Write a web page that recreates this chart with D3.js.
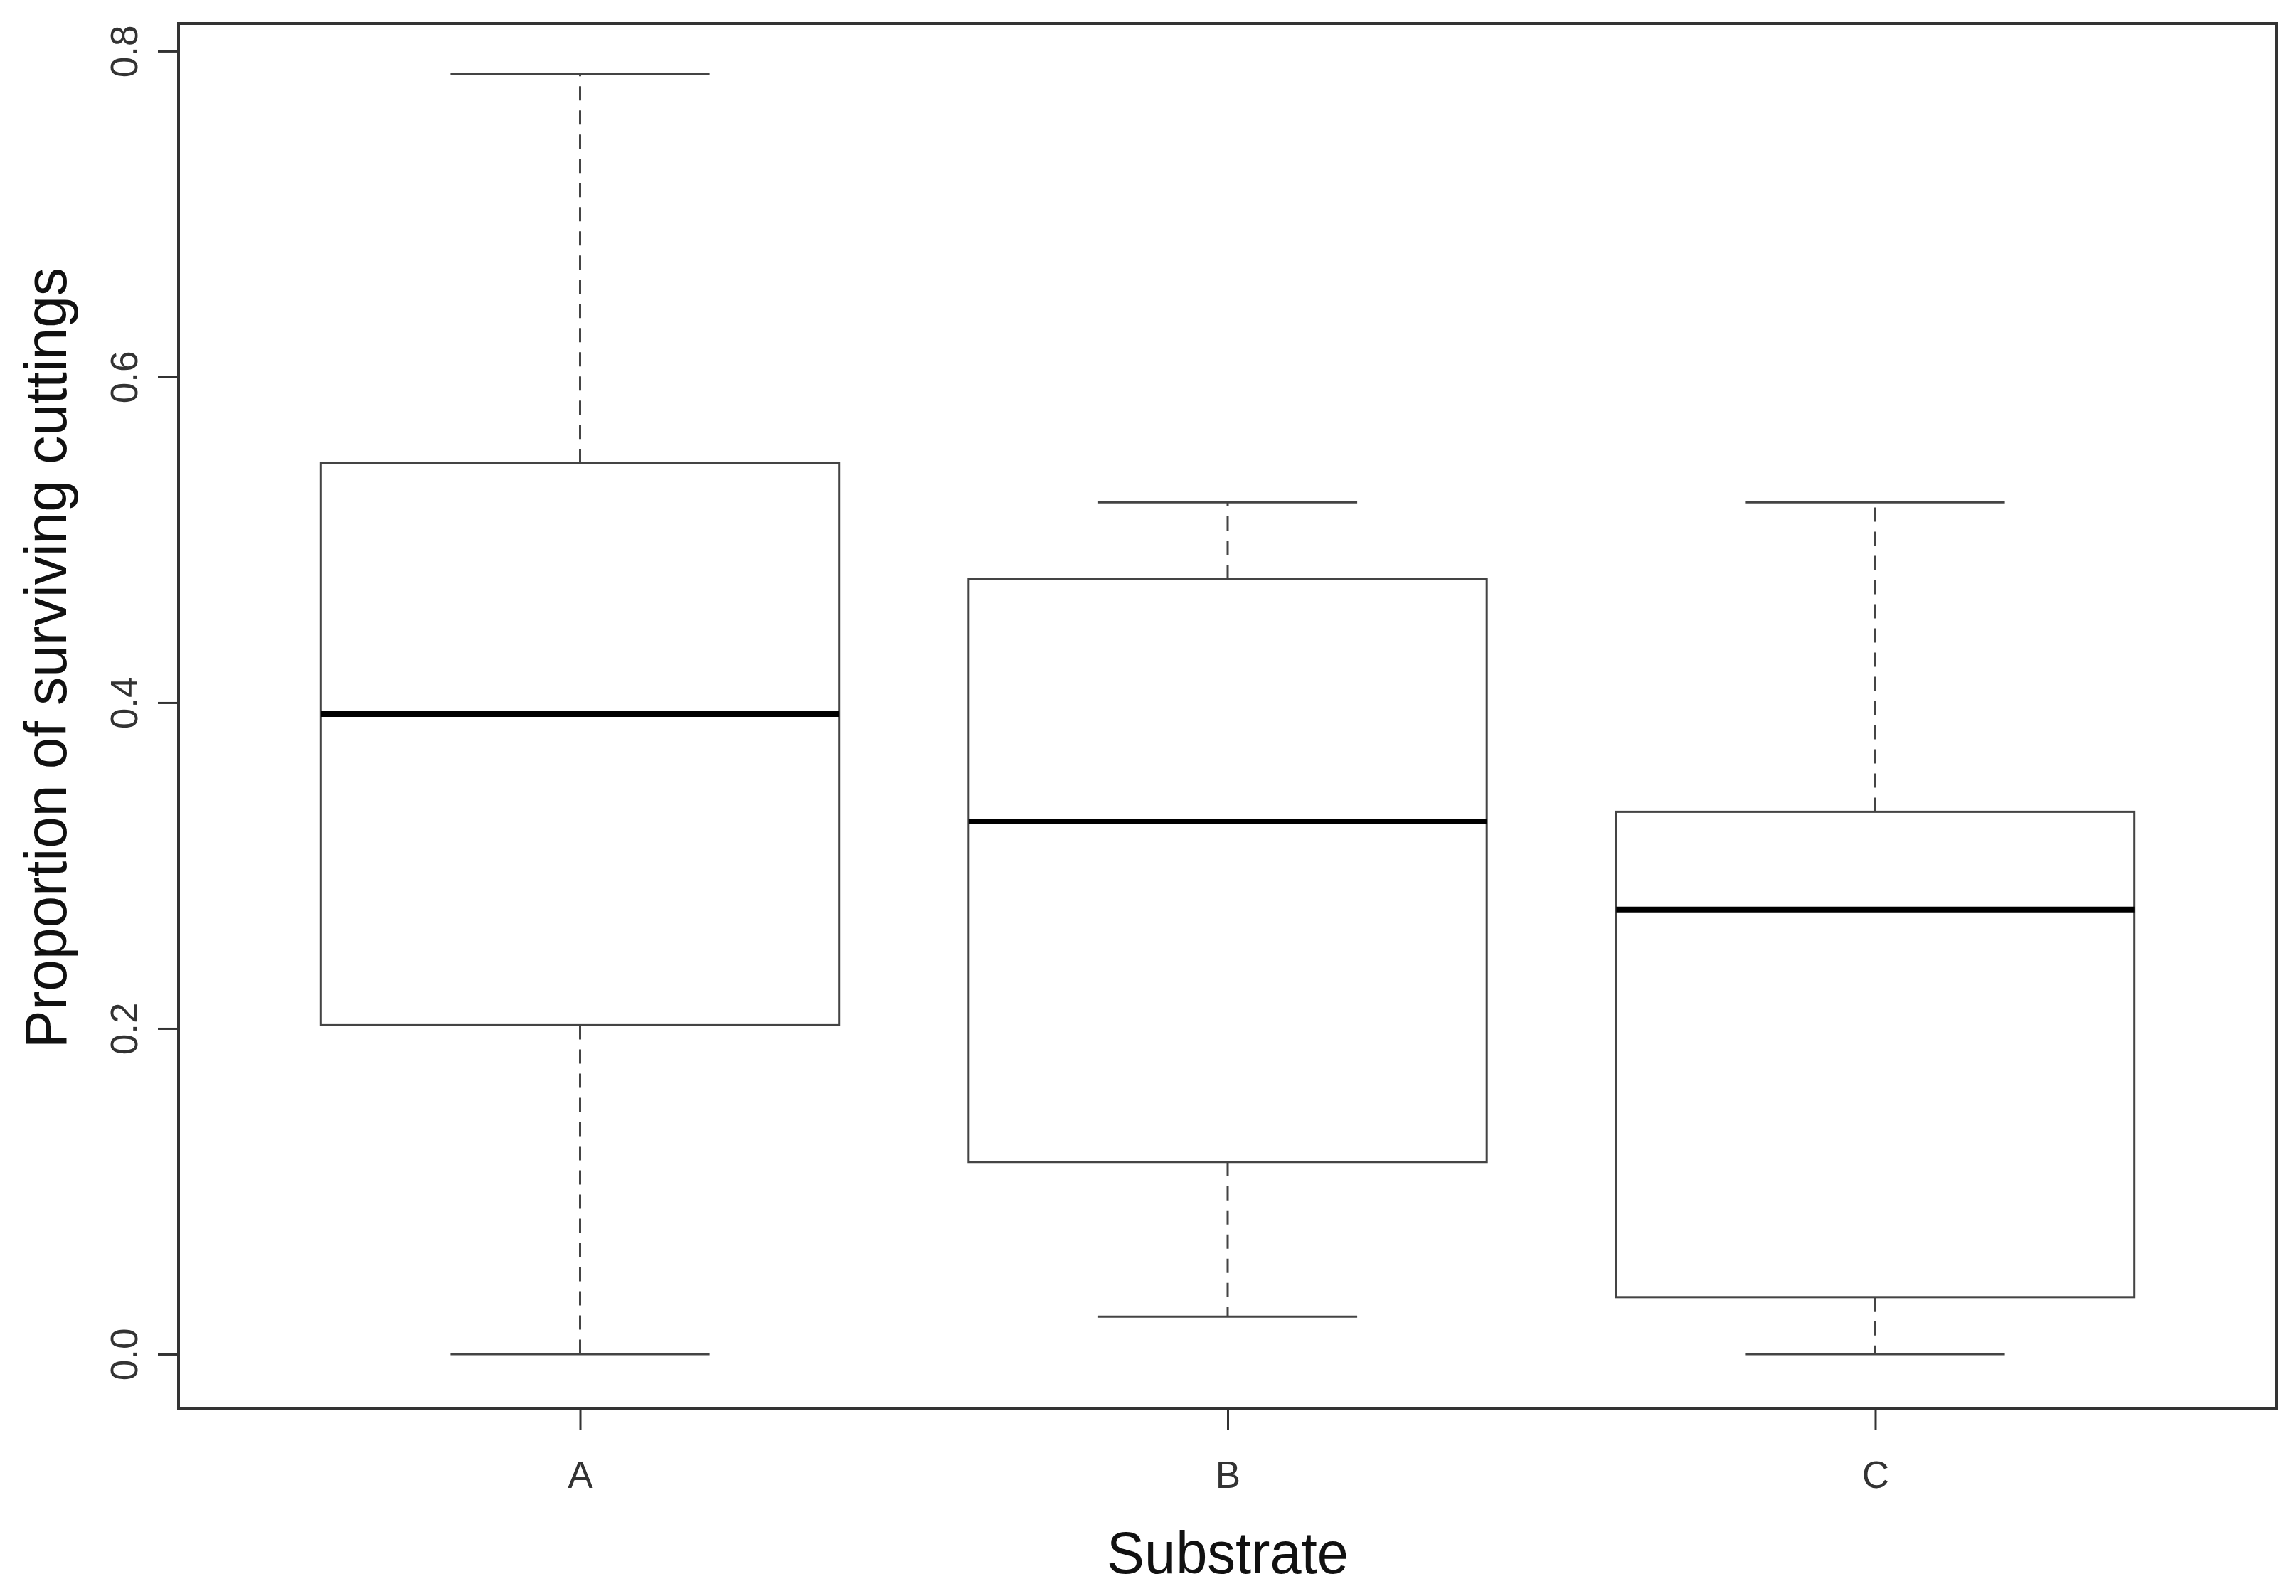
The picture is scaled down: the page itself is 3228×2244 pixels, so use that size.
<!DOCTYPE html>
<html>
<head>
<meta charset="utf-8">
<script src="https://cdn.jsdelivr.net/npm/d3@7"></script>
<style>
  body { margin: 0; background: #fff; }
  text { font-family: "Liberation Sans", Arial, Helvetica, sans-serif; }
</style>
</head>
<body>
<div id="chart"></div>
<script>
// box plot summary values
const categories = ["A", "B", "C"];
const upperWhisker = [0.786, 0.523, 0.523];
const upperQuartile = [0.547, 0.476, 0.333];
const medians = [0.393, 0.327, 0.273];
const lowerQuartile = [0.202, 0.118, 0.035];
const lowerWhisker = [0.000, 0.023, 0.000];
const yTicks = [0, 0.2, 0.4, 0.6, 0.8];

const width = 3228;
const height = 2244;
// plot frame
const frameLeft = 251, frameRight = 3201, frameTop = 33, frameBottom = 1980;

const svg = d3.select("#chart").append("svg")
  .attr("width", width)
  .attr("height", height)
  .style("background", "#fff");

// R style: xlim 0.5..3.5 plus 4% each side
const x = d3.scalePoint()
  .domain(categories)
  .range([frameLeft, frameRight])
  .padding(0.62);

const y = d3.scaleLinear()
  .domain([-0.0332, 0.817])
  .range([frameBottom, frameTop]);

const boxW = x.step() * 0.8;
const capW = boxW * 0.5;

const data = categories.map((c, i) => ({
  cat: c,
  hi: upperWhisker[i],
  q3: upperQuartile[i],
  med: medians[i],
  q1: lowerQuartile[i],
  lo: lowerWhisker[i]
}));

const lineCol = "#444";

const g = svg.append("g");

// whiskers (dashed)
g.selectAll(".whisker-up")
  .data(data)
  .join("line")
  .attr("x1", d => x(d.cat)).attr("x2", d => x(d.cat))
  .attr("y1", d => y(d.q3)).attr("y2", d => y(d.hi))
  .attr("stroke", lineCol).attr("stroke-width", 3)
  .attr("stroke-dasharray", "20,14");

g.selectAll(".whisker-down")
  .data(data)
  .join("line")
  .attr("x1", d => x(d.cat)).attr("x2", d => x(d.cat))
  .attr("y1", d => y(d.q1)).attr("y2", d => y(d.lo))
  .attr("stroke", lineCol).attr("stroke-width", 3)
  .attr("stroke-dasharray", "20,14");

// staples
["hi", "lo"].forEach(k => {
  g.selectAll(".cap-" + k)
    .data(data)
    .join("line")
    .attr("x1", d => x(d.cat) - capW / 2).attr("x2", d => x(d.cat) + capW / 2)
    .attr("y1", d => y(d[k])).attr("y2", d => y(d[k]))
    .attr("stroke", lineCol).attr("stroke-width", 3);
});

// boxes
g.selectAll(".box")
  .data(data)
  .join("rect")
  .attr("x", d => x(d.cat) - boxW / 2)
  .attr("width", boxW)
  .attr("y", d => y(d.q3))
  .attr("height", d => y(d.q1) - y(d.q3))
  .attr("fill", "#fff")
  .attr("stroke", lineCol)
  .attr("stroke-width", 3);

// medians
g.selectAll(".median")
  .data(data)
  .join("line")
  .attr("x1", d => x(d.cat) - boxW / 2).attr("x2", d => x(d.cat) + boxW / 2)
  .attr("y1", d => y(d.med)).attr("y2", d => y(d.med))
  .attr("stroke", "#000").attr("stroke-width", 8);

// y axis
const yAxis = svg.append("g")
  .attr("transform", `translate(${frameLeft},0)`)
  .call(d3.axisLeft(y).tickValues(yTicks).tickFormat(d3.format(".1f")).tickSize(29));
yAxis.select(".domain").remove();
yAxis.selectAll(".tick line").attr("stroke", "#333").attr("stroke-width", 3);
yAxis.selectAll(".tick text")
  .attr("transform", "rotate(-90)")
  .attr("x", 0).attr("y", -58).attr("dy", 0)
  .attr("text-anchor", "middle")
  .attr("fill", "#333")
  .style("font-size", "53px");

// x axis
const xAxis = svg.append("g")
  .attr("transform", `translate(0,${frameBottom})`)
  .call(d3.axisBottom(x).tickSize(30));
xAxis.select(".domain").remove();
xAxis.selectAll(".tick line").attr("stroke", "#333").attr("stroke-width", 3);
xAxis.selectAll(".tick text")
  .attr("y", 112).attr("dy", 0)
  .attr("fill", "#333")
  .style("font-size", "53px");

// frame
svg.append("rect")
  .attr("x", frameLeft).attr("y", frameTop)
  .attr("width", frameRight - frameLeft).attr("height", frameBottom - frameTop)
  .attr("fill", "none")
  .attr("stroke", "#333")
  .attr("stroke-width", 4);

// axis titles
svg.append("text")
  .attr("x", (frameLeft + frameRight) / 2)
  .attr("y", 2212)
  .attr("text-anchor", "middle")
  .attr("fill", "#111")
  .attr("textLength", 340)
  .attr("lengthAdjust", "spacingAndGlyphs")
  .style("font-size", "84px")
  .text("Substrate");

svg.append("text")
  .attr("transform", "translate(93,925) rotate(-90)")
  .attr("text-anchor", "middle")
  .attr("fill", "#111")
  .attr("textLength", 1098)
  .attr("lengthAdjust", "spacingAndGlyphs")
  .style("font-size", "84px")
  .text("Proportion of surviving cuttings");
</script>
</body>
</html>
